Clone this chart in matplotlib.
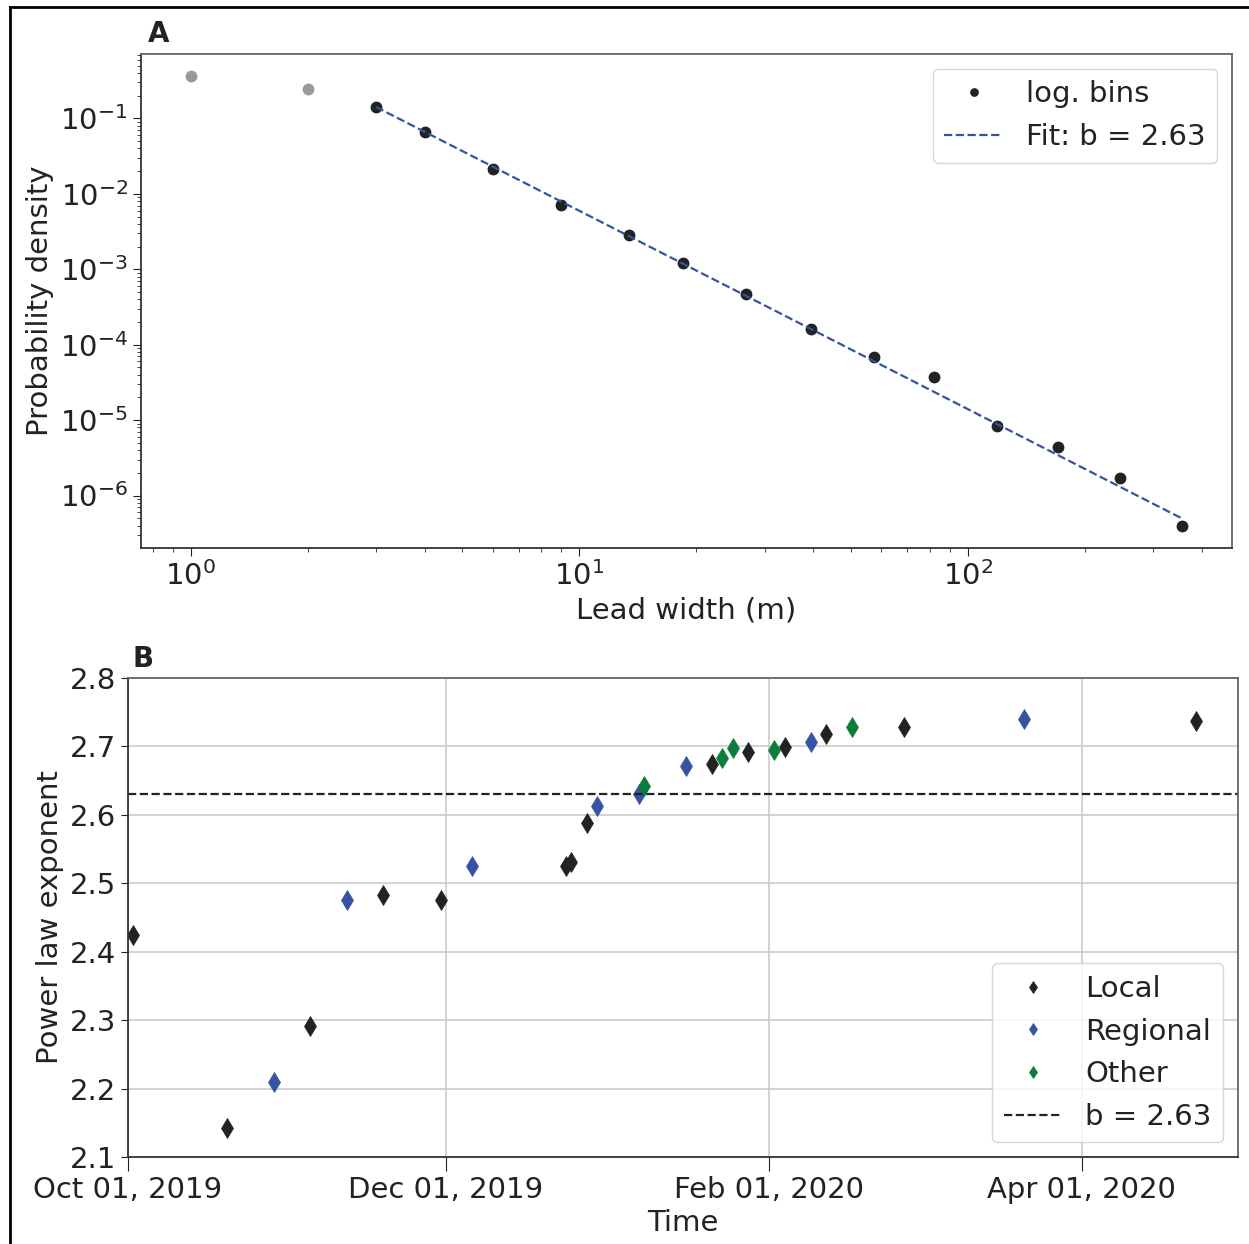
import matplotlib
matplotlib.use('Agg')
import matplotlib.pyplot as plt
import matplotlib.dates as mdates
import numpy as np
import pandas as pd
from matplotlib.lines import Line2D

# Panel A: lead width distribution (log bins)
lead_width_small = [1, 2]
density_small = [0.36, 0.242]
lead_width = [3, 4, 6, 9, 13.4, 18.5, 26.9, 39.5, 57.3, 81.8, 118.8, 171, 247, 357]
density = [0.14, 0.0653, 0.0211, 0.00714, 0.00287, 0.0012, 4.67e-4, 1.61e-4,
           6.94e-5, 3.77e-5, 8.33e-6, 4.4e-6, 1.73e-6, 4.0e-7]
fit_b = 2.63
fit_c = 2.55

# Panel B: power law exponent per scene
scene_dates = ['2019-10-02', '2019-10-20', '2019-10-29', '2019-11-05', '2019-11-12',
               '2019-11-19', '2019-11-30', '2019-12-06', '2019-12-24', '2019-12-25',
               '2019-12-28', '2019-12-30', '2020-01-07', '2020-01-08', '2020-01-16',
               '2020-01-21', '2020-01-23', '2020-01-25', '2020-01-28', '2020-02-02',
               '2020-02-04', '2020-02-09', '2020-02-12', '2020-02-17', '2020-02-27',
               '2020-03-21', '2020-04-23']
exponent = [2.424, 2.143, 2.210, 2.291, 2.475, 2.483, 2.475, 2.525, 2.525, 2.531,
            2.588, 2.613, 2.630, 2.642, 2.671, 2.675, 2.683, 2.697, 2.692, 2.695,
            2.699, 2.707, 2.718, 2.728, 2.728, 2.740, 2.737]
scale = ['Local', 'Local', 'Regional', 'Local', 'Regional', 'Local', 'Local', 'Regional',
         'Local', 'Local', 'Local', 'Regional', 'Regional', 'Other', 'Regional', 'Local',
         'Other', 'Other', 'Local', 'Other', 'Local', 'Regional', 'Local', 'Other',
         'Local', 'Regional', 'Local']
scale_names = ['Local', 'Regional', 'Other']
scale_colors = ['#222222', '#3652a3', '#0b7d3a']

plt.rcParams['font.family'] = 'DejaVu Sans'
plt.rcParams['font.size'] = 21
plt.rcParams['text.color'] = '#222222'
plt.rcParams['axes.labelcolor'] = '#222222'
plt.rcParams['xtick.color'] = '#222222'
plt.rcParams['ytick.color'] = '#222222'

fig = plt.figure(figsize=(12.49, 12.44), dpi=100)
W, H = 1249, 1244

axA = fig.add_axes([141 / W, 1 - 548 / H, (1232 - 141) / W, (548 - 54) / H])
axB = fig.add_axes([128 / W, 1 - 1157 / H, (1238 - 128) / W, (1157 - 678) / H])

# --- A ---
axA.plot(lead_width_small, density_small, 'o', color='#999999', ms=7.5)
axA.plot(lead_width, density, 'o', color='#222222', ms=7.5, label='log. bins')
xf = np.array([lead_width[0], lead_width[-1]])
axA.plot(xf, fit_c * xf ** (-fit_b), '--', color='#3652a3', lw=1.6,
         label='Fit: b = %.2f' % fit_b)
axA.set_xscale('log')
axA.set_yscale('log')
axA.set_xlabel('Lead width (m)')
axA.set_ylabel('Probability density')
axA.legend(loc='upper right', markerscale=0.7)
axA.text(0.006, 1.012, 'A', transform=axA.transAxes, fontweight='bold', fontsize=20,
         va='bottom', ha='left')
axA.tick_params(which='major', length=6)
axA.tick_params(which='minor', length=3)

# --- B ---
df = pd.DataFrame({'date': pd.to_datetime(scene_dates), 'b': exponent, 'scale': scale})
for name, col in zip(scale_names, scale_colors):
    sub = df[df['scale'] == name]
    axB.plot(sub['date'], sub['b'], 'd', color=col, ms=10, mew=0.5, label=name)
axB.axhline(fit_b, color='#222222', ls='--', lw=1.6, label='b = %.2f' % fit_b)
axB.set_xlim(pd.Timestamp('2019-10-01'), pd.Timestamp('2020-05-01'))
axB.set_ylim(2.1, 2.8)
axB.set_yticks(np.arange(2.1, 2.81, 0.1))
axB.xaxis.set_major_locator(mdates.MonthLocator(bymonth=[10, 12, 2, 4]))
axB.xaxis.set_major_formatter(mdates.DateFormatter('%b %d, %Y'))
axB.grid(True, color='#cccccc', lw=1.2)
axB.set_axisbelow(True)
axB.set_xlabel('Time', labelpad=4)
axB.set_ylabel('Power law exponent')
axB.tick_params(axis='x', length=10)
axB.tick_params(axis='y', length=5)
axB.legend(loc='lower right', markerscale=0.65)
axB.text(0.004, 1.01, 'B', transform=axB.transAxes, fontweight='bold', fontsize=20,
         va='bottom', ha='left')

for ax in (axA, axB):
    for side in ('top', 'right'):
        ax.spines[side].set_color('#666666')
    for side in ('left', 'bottom'):
        ax.spines[side].set_color('#333333')
    for s in ax.spines.values():
        s.set_linewidth(1.3)

# outer frame
fig.add_artist(Line2D([10 / W, 10 / W], [0, 1 - 7 / H], color='black', lw=2))
fig.add_artist(Line2D([10 / W, 1], [1 - 7 / H, 1 - 7 / H], color='black', lw=2))

fig.savefig('out.png', dpi=100)
